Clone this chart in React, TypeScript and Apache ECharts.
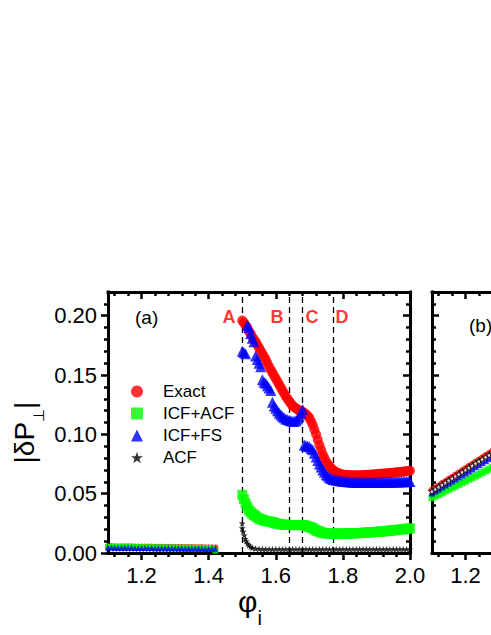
import React, { useEffect, useRef } from 'react';
import * as echarts from 'echarts';

const FONT = '"Liberation Sans", Arial, Helvetica, sans-serif';

// ---------- axis ranges and ticks ----------
const X_MIN = 1.1;
const X_MAX = 2.0;
const Y_MIN = 0;
const Y_MAX = 0.22;
const X_MAJOR = [1.2, 1.4, 1.6, 1.8, 2.0];
const X_MINOR = [1.12, 1.16, 1.24, 1.28, 1.32, 1.36, 1.44, 1.48, 1.52, 1.56, 1.64, 1.68, 1.72, 1.76, 1.84, 1.88, 1.92, 1.96];
const Y_MAJOR = [0, 0.05, 0.1, 0.15, 0.2];
const Y_MINOR = [0.01, 0.02, 0.03, 0.04, 0.06, 0.07, 0.08, 0.09, 0.11, 0.12, 0.13, 0.14, 0.16, 0.17, 0.18, 0.19, 0.21];
const X_LABELS_B = [1.2];

// ---------- panel (a) data ----------
const X_LOW = [
  1.10, 1.11, 1.12, 1.13, 1.14, 1.15, 1.16, 1.17, 1.18, 1.19, 1.20,
  1.21, 1.22, 1.23, 1.24, 1.25, 1.26, 1.27, 1.28, 1.29, 1.30,
  1.31, 1.32, 1.33, 1.34, 1.35, 1.36, 1.37, 1.38, 1.39, 1.40,
  1.41, 1.42,
];
const EXACT_LOW = [
  0.0058, 0.0058, 0.0057, 0.0057, 0.0057, 0.0056, 0.0056, 0.0056, 0.0055, 0.0055, 0.0055,
  0.0054, 0.0054, 0.0054, 0.0053, 0.0053, 0.0053, 0.0052, 0.0052, 0.0052, 0.0051,
  0.0051, 0.0051, 0.0050, 0.0050, 0.0050, 0.0049, 0.0049, 0.0049, 0.0048, 0.0048,
  0.0048, 0.0047,
];
const ICFACF_LOW = [
  0.0052, 0.0052, 0.0051, 0.0051, 0.0051, 0.0050, 0.0050, 0.0050, 0.0049, 0.0049, 0.0049,
  0.0048, 0.0048, 0.0048, 0.0047, 0.0047, 0.0047, 0.0046, 0.0046, 0.0046, 0.0045,
  0.0045, 0.0045, 0.0044, 0.0044, 0.0044, 0.0043, 0.0043, 0.0043, 0.0042, 0.0042,
  0.0040, 0.0020,
];
const ICFFS_LOW = [
  0.0046, 0.0046, 0.0045, 0.0045, 0.0045, 0.0044, 0.0044, 0.0044, 0.0043, 0.0043, 0.0043,
  0.0042, 0.0042, 0.0042, 0.0041, 0.0041, 0.0041, 0.0040, 0.0040, 0.0040, 0.0039,
  0.0039, 0.0039, 0.0038, 0.0038, 0.0038, 0.0037, 0.0037, 0.0037, 0.0036, 0.0036,
  0.0036, 0.0035,
];
const ACF_LOW = [
  0.0040, 0.0040, 0.0040, 0.0039, 0.0039, 0.0039, 0.0038, 0.0038, 0.0038, 0.0037, 0.0037,
  0.0037, 0.0036, 0.0036, 0.0036, 0.0035, 0.0035, 0.0035, 0.0034, 0.0034, 0.0034,
  0.0033, 0.0033, 0.0033, 0.0032, 0.0032, 0.0032, 0.0031, 0.0031, 0.0031, 0.0030,
  0.0030, 0.0030,
];

const X_HI = [
  1.500, 1.505, 1.510, 1.515, 1.520, 1.525, 1.530, 1.535, 1.540, 1.545,
  1.550, 1.555, 1.560, 1.565, 1.570, 1.575, 1.580, 1.585, 1.590, 1.595,
  1.600, 1.605, 1.610, 1.615, 1.620, 1.625, 1.630, 1.635, 1.640, 1.645,
  1.650, 1.655, 1.660, 1.665, 1.670, 1.675, 1.680, 1.685, 1.690, 1.695,
  1.700, 1.705, 1.710, 1.715, 1.720, 1.725, 1.730, 1.735, 1.740, 1.745,
  1.750, 1.755, 1.760, 1.765, 1.770, 1.775, 1.780, 1.785, 1.790, 1.795,
  1.800, 1.805, 1.810, 1.815, 1.820, 1.825, 1.830, 1.835, 1.840, 1.845,
  1.850, 1.855, 1.860, 1.865, 1.870, 1.875, 1.880, 1.885, 1.890, 1.895,
  1.900, 1.905, 1.910, 1.915, 1.920, 1.925, 1.930, 1.935, 1.940, 1.945,
  1.950, 1.955, 1.960, 1.965, 1.970, 1.975, 1.980, 1.985, 1.990, 1.995,
  2.000,
];
const EXACT_HI = [
  0.196, 0.194, 0.192, 0.190, 0.187, 0.185, 0.182, 0.180, 0.178, 0.1755,
  0.173, 0.1705, 0.168, 0.1655, 0.163, 0.160, 0.157, 0.1545, 0.152, 0.1495,
  0.147, 0.1445, 0.142, 0.1395, 0.137, 0.1345, 0.132, 0.130, 0.128, 0.126,
  0.124, 0.123, 0.122, 0.121, 0.120, 0.1195, 0.119, 0.118, 0.117, 0.1155,
  0.114, 0.111, 0.108, 0.104, 0.100, 0.0955, 0.091, 0.087, 0.083, 0.080,
  0.077, 0.075, 0.073, 0.0715, 0.070, 0.069, 0.068, 0.0675, 0.067, 0.0665,
  0.066, 0.066, 0.066, 0.0658, 0.0656, 0.0655, 0.0655, 0.0655, 0.0655, 0.0655,
  0.0655, 0.0656, 0.0657, 0.0658, 0.0659, 0.066, 0.066, 0.0661, 0.0662, 0.0663,
  0.0665, 0.0666, 0.0667, 0.0668, 0.067, 0.0671, 0.0672, 0.0673, 0.0675, 0.0676,
  0.0677, 0.0678, 0.068, 0.0681, 0.0683, 0.0684, 0.0686, 0.0688, 0.069, 0.0692,
  0.0694,
];
const ICFACF_HI = [
  0.049, 0.0455, 0.042, 0.039, 0.036, 0.0345, 0.033, 0.032, 0.031, 0.030,
  0.029, 0.0285, 0.028, 0.0275, 0.027, 0.0268, 0.0265, 0.0262, 0.026, 0.0255,
  0.025, 0.0248, 0.0245, 0.0242, 0.024, 0.0239, 0.0238, 0.0237, 0.0236, 0.0236,
  0.0235, 0.0235, 0.0235, 0.0235, 0.0236, 0.0236, 0.0236, 0.0234, 0.023, 0.0225,
  0.022, 0.0215, 0.021, 0.020, 0.019, 0.0185, 0.018, 0.0175, 0.017, 0.0168,
  0.0165, 0.0164, 0.0163, 0.0163, 0.0163, 0.0163, 0.0163, 0.0163, 0.0163, 0.0163,
  0.0163, 0.0163, 0.0164, 0.0164, 0.0165, 0.0165, 0.0166, 0.0166, 0.0167, 0.0167,
  0.0168, 0.0169, 0.017, 0.0171, 0.0172, 0.0173, 0.0174, 0.0175, 0.0176, 0.0177,
  0.0178, 0.0179, 0.018, 0.0181, 0.0182, 0.0184, 0.0185, 0.0187, 0.0188, 0.019,
  0.0191, 0.0193, 0.0194, 0.0196, 0.0197, 0.0199, 0.020, 0.0202, 0.0204, 0.0206,
  0.0208,
];
const ICFFS_HI = [
  0.170, 0.169, 0.168, 0.192, 0.190, 0.185, 0.181, 0.178, 0.166, 0.163,
  0.160, 0.157, 0.146, 0.144, 0.143, 0.141, 0.139, 0.137, 0.127, 0.124,
  0.122, 0.120, 0.118, 0.1165, 0.115, 0.114, 0.113, 0.1125, 0.112, 0.1115,
  0.111, 0.111, 0.1115, 0.113, 0.115, 0.118, 0.121, 0.091, 0.0905, 0.090,
  0.0895, 0.088, 0.087, 0.084, 0.081, 0.078, 0.075, 0.0725, 0.070, 0.068,
  0.066, 0.0648, 0.0635, 0.0628, 0.062, 0.0618, 0.0615, 0.0612, 0.061, 0.0608,
  0.0605, 0.0603, 0.0602, 0.0601, 0.060, 0.0599, 0.0598, 0.0598, 0.0597, 0.0597,
  0.0596, 0.0596, 0.0596, 0.0596, 0.0596, 0.0596, 0.0596, 0.0596, 0.0596, 0.0596,
  0.0596, 0.0597, 0.0597, 0.0597, 0.0597, 0.0598, 0.0598, 0.0598, 0.0598, 0.0599,
  0.0599, 0.0599, 0.060, 0.060, 0.060, 0.060, 0.0601, 0.0601, 0.0602, 0.0602,
  0.0603,
];
const ACF_X = [
  1.500, 1.500, 1.503, 1.506, 1.509, 1.512, 1.516, 1.520, 1.525, 1.530,
  1.54, 1.55, 1.56, 1.57, 1.58, 1.59, 1.60, 1.61, 1.62, 1.63, 1.64, 1.65, 1.66, 1.67, 1.68, 1.69,
  1.70, 1.71, 1.72, 1.73, 1.74, 1.75, 1.76, 1.77, 1.78, 1.79, 1.80, 1.81, 1.82, 1.83, 1.84, 1.85,
  1.86, 1.87, 1.88, 1.89, 1.90, 1.91, 1.92, 1.93, 1.94, 1.95, 1.96, 1.97, 1.98, 1.99, 2.00,
];
const ACF_Y = [
  0.025, 0.021, 0.018, 0.015, 0.012, 0.010, 0.008, 0.0065, 0.0052, 0.0043,
  0.0037, 0.0034, 0.0033, 0.0032, 0.0032, 0.0032, 0.0032, 0.0032, 0.0032, 0.0032, 0.0032, 0.0032, 0.0032, 0.0032, 0.0032, 0.0032,
  0.0032, 0.0032, 0.0032, 0.0032, 0.0032, 0.0032, 0.0032, 0.0032, 0.0032, 0.0032, 0.0032, 0.0032, 0.0032, 0.0032, 0.0032, 0.0032,
  0.0032, 0.0032, 0.0032, 0.0032, 0.0032, 0.0032, 0.0032, 0.0032, 0.0032, 0.0032, 0.0032, 0.0032, 0.0032, 0.0032, 0.0032,
];

// transition markers
const DASH_X = [1.5, 1.64, 1.68, 1.77];
const LETTERS = ['A', 'B', 'C', 'D'];
const LETTER_X = [1.4605, 1.6036, 1.7079, 1.7973];
const LETTER_Y = [0.199, 0.199, 0.199, 0.199];

// ---------- panel (b) data (visible part) ----------
const X_B = [1.10, 1.11, 1.12, 1.13, 1.14, 1.15, 1.16, 1.17, 1.18, 1.19, 1.20, 1.21, 1.22, 1.23, 1.24, 1.25, 1.26, 1.27, 1.28];
const EXACT_B = [0.0530, 0.0548, 0.0566, 0.0585, 0.0603, 0.0621, 0.0639, 0.0657, 0.0675, 0.0694, 0.0712, 0.0730, 0.0748, 0.0766, 0.0784, 0.0803, 0.0821, 0.0839, 0.0857];
const ICFACF_B = [0.0465, 0.0479, 0.0493, 0.0507, 0.0522, 0.0536, 0.0550, 0.0564, 0.0578, 0.0592, 0.0607, 0.0621, 0.0635, 0.0649, 0.0663, 0.0677, 0.0692, 0.0706, 0.0720];
const ICFFS_B = [0.0505, 0.0522, 0.0539, 0.0556, 0.0573, 0.0590, 0.0607, 0.0624, 0.0641, 0.0658, 0.0675, 0.0692, 0.0709, 0.0726, 0.0743, 0.0760, 0.0777, 0.0794, 0.0811];
const ACF_B = [0.0520, 0.0538, 0.0556, 0.0574, 0.0592, 0.0610, 0.0628, 0.0646, 0.0664, 0.0682, 0.0700, 0.0718, 0.0736, 0.0754, 0.0772, 0.0790, 0.0808, 0.0826, 0.0844];

const STAR = 'path://M50,2 L61.8,36.2 L97.6,36.2 L68.6,57.4 L79.4,91.6 L50,70.6 L20.6,91.6 L31.4,57.4 L2.4,36.2 L38.2,36.2 Z';

const zip = (xs: number[], ys: number[]) => xs.map((x, i) => [x, ys[i]]);

function xAx(grid: number, position: string, ticks: number[], len: number, inside: boolean, line: boolean, labels?: number[], extra?: any) {
  return {
    type: 'value', gridIndex: grid, position, min: X_MIN, max: X_MAX,
    axisLine: { show: line, onZero: false, lineStyle: { color: '#000', width: 3, cap: 'square' } },
    axisTick: { show: true, inside, length: len, customValues: ticks, lineStyle: { color: '#000', width: 2.5 } },
    axisLabel: labels
      ? { show: true, customValues: labels, formatter: (v: number) => v.toFixed(1), fontSize: 22, color: '#000', fontFamily: FONT, margin: 11 }
      : { show: false },
    splitLine: { show: false },
    ...(extra || {}),
  };
}
function yAx(grid: number, position: string, ticks: number[], len: number, inside: boolean, line: boolean, labels?: number[], extra?: any) {
  return {
    type: 'value', gridIndex: grid, position, min: Y_MIN, max: Y_MAX,
    axisLine: { show: line, onZero: false, lineStyle: { color: '#000', width: 3, cap: 'square' } },
    axisTick: { show: true, inside, length: len, customValues: ticks, lineStyle: { color: '#000', width: 2.5 } },
    axisLabel: labels
      ? { show: true, customValues: labels, formatter: (v: number) => v.toFixed(2), fontSize: 22, color: '#000', fontFamily: FONT, margin: 11 }
      : { show: false },
    splitLine: { show: false },
    ...(extra || {}),
  };
}

const sizeA = (v: number[]) => (v[0] < 1.45 ? 6 : 10);

export default function App() {
  const ref = useRef<HTMLDivElement>(null);
  useEffect(() => {
    const chart = echarts.init(ref.current!, null, { renderer: 'svg' });
    const option: any = {
      animation: false,
      backgroundColor: '#ffffff',
      textStyle: { fontFamily: FONT },
      grid: [
        { left: 108, top: 292, width: 302, height: 261, outerBoundsMode: 'none', containLabel: false },
        { left: 432, top: 292, width: 302, height: 261, outerBoundsMode: 'none', containLabel: false },
      ],
      xAxis: [
        xAx(0, 'bottom', X_MAJOR, 7, false, true, X_MAJOR, {
          name: '{p|φ}{i|i}',
          nameLocation: 'middle',
          nameGap: 21,
          nameMoveOverlap: false,
          nameTextStyle: {
            fontFamily: FONT,
            padding: [0, 18, 0, 0],
            rich: {
              p: { fontSize: 30, color: '#000', fontFamily: FONT },
              i: { fontSize: 20, color: '#000', fontFamily: FONT, verticalAlign: 'bottom', lineHeight: 54 },
            },
          },
        }),
        xAx(0, 'bottom', X_MINOR, 4, false, false),
        xAx(0, 'top', X_MAJOR, 7, true, true),
        xAx(0, 'top', X_MINOR, 4, true, false),
        xAx(1, 'bottom', X_MAJOR, 7, false, true, X_LABELS_B),
        xAx(1, 'bottom', X_MINOR, 4, false, false),
        xAx(1, 'top', X_MAJOR, 7, true, true),
        xAx(1, 'top', X_MINOR, 4, true, false),
      ],
      yAxis: [
        yAx(0, 'left', Y_MAJOR, 7, false, true, Y_MAJOR, {
          name: '{a||δP}{s|⊥}{a||}',
          nameLocation: 'middle',
          nameGap: 62,
          nameMoveOverlap: false,
          nameTextStyle: {
            fontFamily: FONT,
            padding: [0, 20, 0, 0],
            rich: {
              a: { fontSize: 28, color: '#000', fontFamily: FONT },
              s: { fontSize: 15, color: '#000', fontFamily: FONT, verticalAlign: 'bottom', lineHeight: 44 },
            },
          },
        }),
        yAx(0, 'left', Y_MINOR, 4, false, false),
        yAx(0, 'right', Y_MAJOR, 7, true, true),
        yAx(0, 'right', Y_MINOR, 4, true, false),
        yAx(1, 'left', Y_MAJOR, 7, true, true),
        yAx(1, 'left', Y_MINOR, 4, true, false),
      ],
      legend: {
        orient: 'vertical',
        left: 131,
        top: 383,
        padding: 0,
        itemGap: 5,
        itemWidth: 12,
        itemHeight: 12,
        selectedMode: false,
        textStyle: { fontSize: 17, color: '#000', fontFamily: FONT, padding: [0, 0, 0, 15] },
        data: [
          { name: 'Exact', icon: 'circle' },
          { name: 'ICF+ACF', icon: 'rect' },
          { name: 'ICF+FS', icon: 'triangle' },
          { name: 'ACF', icon: STAR },
        ],
      },
      graphic: [
        { type: 'text', left: 135, top: 308, style: { text: '(a)', fontSize: 19, fill: '#000', fontFamily: FONT } },
        { type: 'text', left: 469, top: 316, style: { text: '(b)', fontSize: 19, fill: '#000', fontFamily: FONT } },
      ],
      series: [
        {
          name: 'ACF', type: 'scatter', xAxisIndex: 0, yAxisIndex: 0, z: 2,
          symbol: STAR, symbolSize: 7,
          itemStyle: { color: '#000' },
          data: zip(X_LOW, ACF_LOW).concat(zip(ACF_X, ACF_Y)),
          markLine: {
            silent: true, z: 1, symbol: ['none', 'none'],
            label: { show: false },
            lineStyle: { type: [6, 4], color: '#000', width: 1.3 },
            data: DASH_X.map((v) => ({ xAxis: v })),
          },
        },
        {
          name: 'Exact', type: 'scatter', xAxisIndex: 0, yAxisIndex: 0, z: 3,
          symbol: 'circle', symbolSize: sizeA,
          itemStyle: { color: '#ff0000' },
          data: zip(X_LOW, EXACT_LOW).concat(zip(X_HI, EXACT_HI)),
        },
        {
          name: 'ICF+ACF', type: 'scatter', xAxisIndex: 0, yAxisIndex: 0, z: 4,
          symbol: 'rect', symbolSize: sizeA,
          itemStyle: { color: '#00ff00' },
          data: zip(X_LOW, ICFACF_LOW).concat(zip(X_HI, ICFACF_HI)),
        },
        {
          name: 'ICF+FS', type: 'scatter', xAxisIndex: 0, yAxisIndex: 0, z: 5,
          symbol: 'triangle', symbolSize: (v: number[]) => (v[0] < 1.45 ? 6 : 11),
          itemStyle: { color: '#0000ff' },
          data: zip(X_LOW, ICFFS_LOW).concat(zip(X_HI, ICFFS_HI)),
        },
        {
          name: 'letters', type: 'scatter', xAxisIndex: 0, yAxisIndex: 0, z: 6,
          symbol: 'circle', symbolSize: 1, silent: true,
          itemStyle: { color: 'rgba(0,0,0,0)' },
          label: {
            show: true, position: 'inside',
            formatter: (p: any) => p.value[2],
            fontSize: 18, fontWeight: 'bold', color: '#ff0000', fontFamily: FONT,
          },
          data: LETTER_X.map((x, i) => [x, LETTER_Y[i], LETTERS[i]]),
        },
        {
          name: 'ICF+ACF', type: 'scatter', xAxisIndex: 4, yAxisIndex: 4, z: 3,
          symbol: 'rect', symbolSize: 7, itemStyle: { color: '#00ff00' },
          data: zip(X_B, ICFACF_B),
        },
        {
          name: 'Exact', type: 'scatter', xAxisIndex: 4, yAxisIndex: 4, z: 3,
          symbol: 'circle', symbolSize: 7, itemStyle: { color: '#ff0000' },
          data: zip(X_B, EXACT_B),
        },
        {
          name: 'ICF+FS', type: 'scatter', xAxisIndex: 4, yAxisIndex: 4, z: 4,
          symbol: 'triangle', symbolSize: 7, itemStyle: { color: '#0000ff' },
          data: zip(X_B, ICFFS_B),
        },
        {
          name: 'ACF', type: 'scatter', xAxisIndex: 4, yAxisIndex: 4, z: 5,
          symbol: STAR, symbolSize: 7, itemStyle: { color: '#ffffff', borderColor: '#000', borderWidth: 1 },
          data: zip(X_B, ACF_B),
        },
      ],
    };
    chart.setOption(option);
    return () => chart.dispose();
  }, []);
  return (
    <div
      ref={ref}
      style={{ position: 'absolute', left: 0, top: 0, width: 491, height: 635, background: '#fff', overflow: 'hidden' }}
    />
  );
}
